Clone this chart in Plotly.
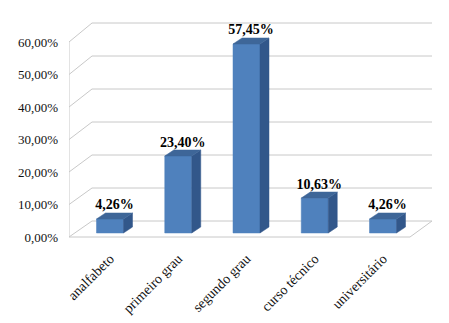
import plotly.graph_objects as go

categories = ["analfabeto", "primeiro grau", "segundo grau", "curso técnico", "universitário"]
values = [4.26, 23.40, 57.45, 10.63, 4.26]
value_labels = ["4,26%", "23,40%", "57,45%", "10,63%", "4,26%"]
tick_values = [0, 10, 20, 30, 40, 50, 60]
tick_labels = ["0,00%", "10,00%", "20,00%", "30,00%", "40,00%", "50,00%", "60,00%"]

FONT = "'Liberation Serif', 'Times New Roman', Times, serif"

W, H = 449, 323
L, R, T, B = 69, 432, 20, 240          # plot area in pixels
PX_PER_CAT = 68.25
X0_PX = 110                            # pixel of first category
X_RANGE = [(L - X0_PX) / PX_PER_CAT, (R - X0_PX) / PX_PER_CAT]
K = 3.29                               # px per percent (bar scale)
ZERO_PX = 233
Y_RANGE = [(ZERO_PX - B) / K, (ZERO_PX - T) / K]

def y_from_px(px):
    return (ZERO_PX - px) / K

def x_from_px(px):
    return (px - X0_PX) / PX_PER_CAT

def front_y(v):
    return y_from_px(237 - 3.25 * v)

def back_y(v):
    return y_from_px(221 - 3.3 * v)

x_front_left = x_from_px(69)
x_back_left = x_from_px(92)
x_back_right = x_from_px(432)
x_front_right = x_from_px(410)

bw = 27 / PX_PER_CAT
dx = 9 / PX_PER_CAT
dy = 6 / K

front_col = "#4F81BD"
top_col = "#3E6698"
side_col = "#32578A"
grid_col = "#C8C8C8"

fig = go.Figure()

for v in tick_values:
    fig.add_trace(go.Scatter(x=[x_back_left, x_back_right], y=[back_y(v), back_y(v)],
                             mode="lines", line=dict(color=grid_col, width=1),
                             hoverinfo="skip", showlegend=False))
    fig.add_trace(go.Scatter(x=[x_front_left, x_back_left], y=[front_y(v), back_y(v)],
                             mode="lines", line=dict(color=grid_col, width=1),
                             hoverinfo="skip", showlegend=False))
fig.add_trace(go.Scatter(x=[x_front_left, x_front_left], y=[front_y(0), front_y(60)],
                         mode="lines", line=dict(color=grid_col, width=1),
                         hoverinfo="skip", showlegend=False))
fig.add_trace(go.Scatter(x=[x_front_left, x_front_right, x_back_right],
                         y=[front_y(0), front_y(0), back_y(0)],
                         mode="lines", line=dict(color=grid_col, width=1),
                         hoverinfo="skip", showlegend=False))

for i, v in enumerate(values):
    xl, xr = i - bw / 2, i + bw / 2
    fig.add_trace(go.Scatter(x=[xl, xr, xr, xl, xl], y=[0, 0, v, v, 0],
                             fill="toself", fillcolor=front_col, mode="lines",
                             line=dict(color=front_col, width=0.5),
                             hoverinfo="skip", showlegend=False))
    fig.add_trace(go.Scatter(x=[xr, xr + dx, xr + dx, xr, xr], y=[0, dy, v + dy, v, 0],
                             fill="toself", fillcolor=side_col, mode="lines",
                             line=dict(color=side_col, width=0.5),
                             hoverinfo="skip", showlegend=False))
    fig.add_trace(go.Scatter(x=[xl, xl + dx, xr + dx, xr, xl], y=[v, v + dy, v + dy, v, v],
                             fill="toself", fillcolor=top_col, mode="lines",
                             line=dict(color=top_col, width=0.5),
                             hoverinfo="skip", showlegend=False))

fig.add_trace(go.Scatter(
    x=[i + dx / 2 for i in range(len(values))],
    y=[v + dy for v in values],
    mode="text", text=value_labels, textposition="top center",
    textfont=dict(family=FONT, size=14, color="black", weight="bold"),
    hoverinfo="skip", showlegend=False))

fig.update_layout(
    width=W, height=H,
    margin=dict(l=L, r=W - R, t=T, b=H - B),
    paper_bgcolor="white", plot_bgcolor="white",
    font=dict(family=FONT),
    xaxis=dict(range=X_RANGE, tickmode="array", tickvals=list(range(len(categories))),
               ticktext=categories, tickangle=-45, showgrid=False, zeroline=False,
               showline=False, ticks="outside", ticklen=4, tickcolor="rgba(0,0,0,0)",
               automargin=False, fixedrange=True,
               tickfont=dict(family=FONT, size=14, color="#111111")),
    yaxis=dict(range=Y_RANGE, tickmode="array", tickvals=[front_y(v) for v in tick_values],
               ticktext=tick_labels, showgrid=False, zeroline=False, showline=False,
               ticks="", ticklabelstandoff=10, automargin=False, fixedrange=True,
               tickfont=dict(family=FONT, size=13, color="#111111")),
    showlegend=False,
)

fig.write_html("out.html")
